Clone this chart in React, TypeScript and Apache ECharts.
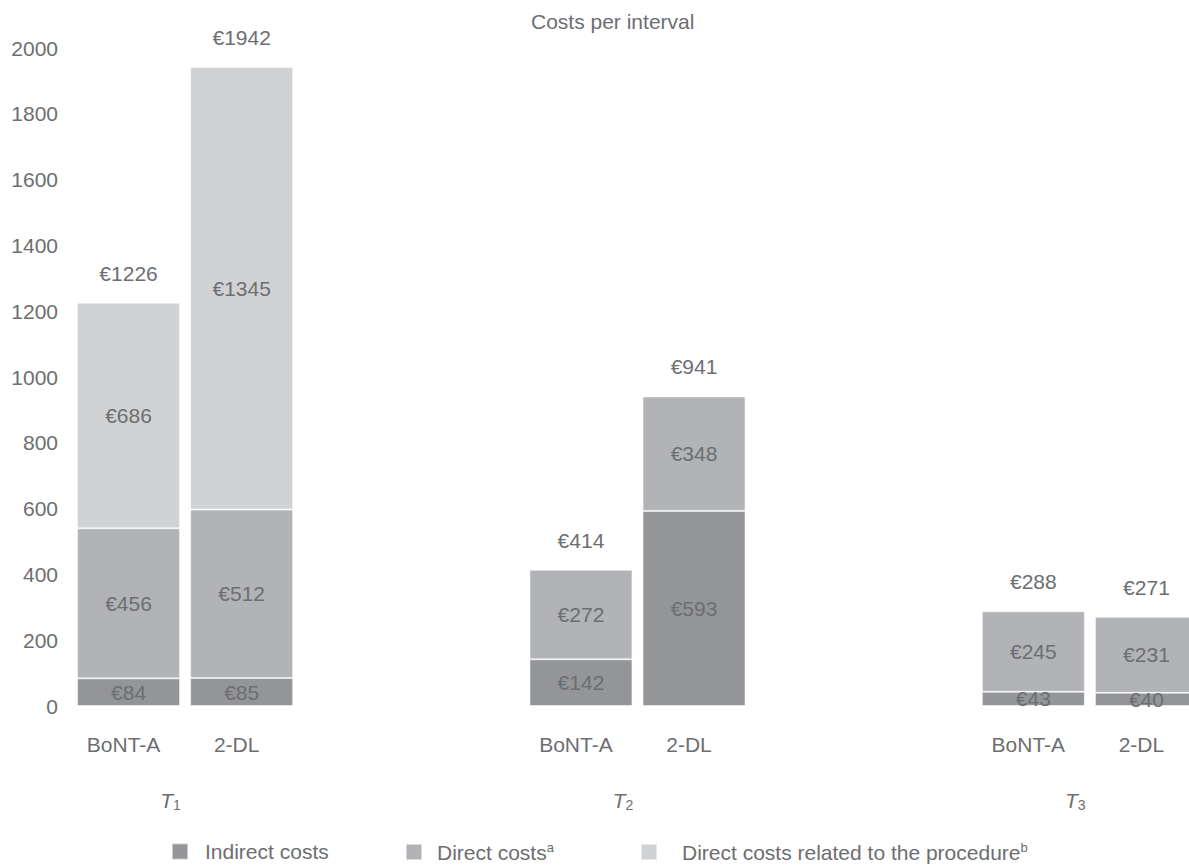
import React, { useEffect, useRef } from "react";
import * as echarts from "echarts";

// ---- data ----
const intervalLabels = ["1", "2", "3"]; // T subscripts
const treatments = ["BoNT-A", "2-DL"];
const indirectCosts = [84, 85, 142, 593, 43, 40];
const directCosts = [456, 512, 272, 348, 245, 231];
const procedureCosts: (number | null)[] = [686, 1345, null, null, null, null];
const totalCosts = [1226, 1942, 414, 941, 288, 271];
const yMin = 0;
const yMax = 2000;
const yInterval = 200;

const seriesNames = ["Indirect costs", "Direct costs", "Direct costs related to the procedure"];
const seriesSup = ["", "a", "b"];

const TEXT = "#6d6e71";
const COLORS = ["#939598", "#b1b3b6", "#d1d2d4"];
const FS = 21;
const FONT = "'Liberation Sans', Arial, Helvetica, sans-serif";

// slot layout: two treatments per interval, two empty slots between intervals
const SPACERS = 2;
const slots: { label: string; dataIdx: number }[] = [];
intervalLabels.forEach((_, i) => {
  treatments.forEach((t, j) => slots.push({ label: t, dataIdx: i * treatments.length + j }));
  if (i < intervalLabels.length - 1) for (let k = 0; k < SPACERS; k++) slots.push({ label: "", dataIdx: -1 });
});
const categories = slots.map((s) => s.label);
const mapData = (arr: (number | null)[]) => slots.map((s) => (s.dataIdx < 0 ? null : arr[s.dataIdx]));

const CHART_W = 1230;

export default function App() {
  const ref = useRef<HTMLDivElement>(null);
  useEffect(() => {
    if (!ref.current) return;
    const chart = echarts.init(ref.current, undefined, { renderer: "svg" });
    const barLabel = {
      show: true,
      position: "inside" as const,
      color: TEXT,
      fontSize: FS,
      fontFamily: FONT,
      formatter: (p: any) => (p.value == null ? "" : "€" + p.value),
    };
    const valueSeries = [indirectCosts, directCosts, procedureCosts].map((arr, k) => ({
      name: seriesNames[k],
      type: "bar" as const,
      stack: "cost",
      barWidth: 103,
      data: mapData(arr),
      itemStyle: { color: COLORS[k], borderColor: "rgba(255,255,255,0.5)", borderWidth: 1 },
      label: barLabel,
      emphasis: { disabled: true },
    }));
    const totalData = slots.map((s) => (s.dataIdx < 0 ? null : 0));
    const legendLefts = [171, 405, 640];
    const legendGaps = [12, 10, 20];
    const option: any = {
      animation: false,
      textStyle: { fontFamily: FONT },
      title: {
        text: "Costs per interval",
        left: 531,
        top: 11,
        padding: 0,
        textStyle: { color: TEXT, fontSize: FS, fontWeight: "normal", fontFamily: FONT },
      },
      legend: seriesNames.map((n, k) => ({
        data: [n],
        left: legendLefts[k],
        top: 841,
        padding: 0,
        icon: "rect",
        itemWidth: 16,
        itemHeight: 16,
        selectedMode: false,
        formatter: (name: string) => {
          const i = seriesNames.indexOf(name);
          return "{n|" + name + "}" + (seriesSup[i] ? "{s|" + seriesSup[i] + "}" : "");
        },
        textStyle: {
          color: TEXT,
          fontSize: FS,
          fontFamily: FONT,
          padding: [0, 0, 0, legendGaps[k]],
          rich: {
            n: { fontSize: FS, color: TEXT, fontFamily: FONT, lineHeight: 22 },
            s: { fontSize: 13, color: TEXT, fontFamily: FONT, verticalAlign: "top", lineHeight: 10 },
          },
        },
      })),
      grid: { left: 72, right: CHART_W - 1203, top: 48, bottom: 162 },
      xAxis: {
        type: "category",
        data: categories,
        axisLine: { show: false },
        axisTick: { show: false },
        axisLabel: {
          color: TEXT,
          fontSize: FS,
          fontFamily: FONT,
          margin: 28,
          interval: 0,
          padding: [0, 10, 0, 0],
        },
      },
      yAxis: {
        type: "value",
        min: yMin,
        max: yMax,
        interval: yInterval,
        axisLine: { show: false },
        axisTick: { show: false },
        splitLine: { show: false },
        axisLabel: {
          color: TEXT,
          fontSize: FS,
          fontFamily: FONT,
          margin: 14,
          formatter: (v: number) => String(v),
        },
      },
      series: [
        ...valueSeries,
        {
          name: "total",
          type: "bar",
          stack: "cost",
          barWidth: 103,
          data: totalData,
          itemStyle: { color: "transparent" },
          emphasis: { disabled: true },
          label: {
            show: true,
            position: "top",
            distance: 19,
            color: TEXT,
            fontSize: FS,
            fontFamily: FONT,
            formatter: (p: any) => {
              const s = slots[p.dataIndex];
              return s.dataIdx < 0 ? "" : "€" + totalCosts[s.dataIdx];
            },
          },
        },
      ],
    };
    chart.setOption(option);

    // interval labels (T1, T2, T3) placed relative to the first bar of each group
    const graphics: any[] = [];
    intervalLabels.forEach((sub, i) => {
      const slotIndex = i * (treatments.length + SPACERS);
      const px = chart.convertToPixel({ xAxisIndex: 0 }, slotIndex) as number;
      graphics.push({
        type: "text",
        x: px + 42,
        y: 800,
        style: {
          text: "{t|T}{s|" + sub + "}",
          align: "center",
          verticalAlign: "middle",
          rich: {
            t: { fontSize: FS, fontStyle: "italic", fill: TEXT, fontFamily: FONT, lineHeight: 24 },
            s: { fontSize: 14, fill: TEXT, fontFamily: FONT, verticalAlign: "bottom", lineHeight: 14 },
          },
        },
      });
    });
    chart.setOption({ graphic: graphics });

    return () => chart.dispose();
  }, []);
  return (
    <div
      style={{
        position: "absolute",
        left: 0,
        top: 0,
        width: 1189,
        height: 868,
        overflow: "hidden",
        background: "#fff",
      }}
    >
      <div ref={ref} style={{ width: CHART_W, height: 868 }} />
    </div>
  );
}
